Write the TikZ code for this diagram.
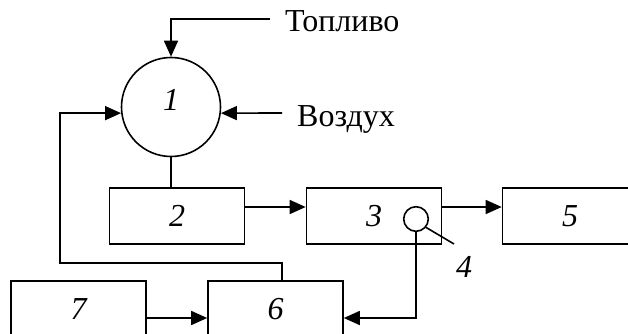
\documentclass[tikz,border=0pt]{standalone}
\usepackage{fontspec}
\setmainfont{Liberation Serif}
\usetikzlibrary{arrows.meta}
\begin{document}
\begin{tikzpicture}[x=1pt,y=-1pt,
  every node/.style={font=\fontsize{32}{38}\selectfont},
  conn/.style={line width=1.6pt},
  arr/.style={conn,-{Triangle[length=16pt,width=14pt]}},
  blk/.style={draw,line width=1.6pt,minimum width=135pt,minimum height=56pt,inner sep=0pt,font=\fontsize{32}{38}\selectfont\itshape},
  ring/.style={draw,circle,line width=1.6pt,inner sep=0pt}]
\useasboundingbox (0,0) rectangle (628,334);
\clip (0,0) rectangle (628,334);
\node[ring,minimum size=99pt] (c1) at (171,107) {};
\node[font=\fontsize{32}{38}\selectfont\itshape] (l1) at (171,100) {1};
\node[blk] (b2) at (177,216) {2};
\node[blk] (b3) at (374,216) {3};
\node[blk] (b5) at (570,216) {5};
\node[blk] (b6) at (275.5,309) {6};
\node[blk] (b7) at (78.5,309) {7};
\node[ring,minimum size=24.6pt,fill=white] (c4) at (416,219) {};
\node[font=\fontsize{32}{38}\selectfont\itshape] (l4) at (464,267) {4};
\node[anchor=base west,inner sep=0pt] (tf) at (285,32) {Топливо};
\node[anchor=base west,inner sep=0pt] (ta) at (297,126) {Воздух};
\coordinate (fuel) at (270,19);
\coordinate (air) at (282,113);
\coordinate (lead) at (454,244);
\coordinate (fb) at (60,263);
\draw[arr] (fuel) -| (c1.north);
\draw[arr] (air) -- (c1.-7);
\draw[conn] (c1.south) -- (c1.south |- b2.north);
\draw[arr] ([yshift=9pt]b2.east) -- ([yshift=9pt]b3.west);
\draw[arr] ([yshift=9pt]b3.east) -- ([yshift=9pt]b5.west);
\draw[conn] (c4.-40) -- (lead);
\draw[arr] (c4.south) |- ([yshift=-9pt]b6.east);
\draw[arr] ([yshift=-9pt]b7.east) -- ([yshift=-9pt]b6.west);
\draw[arr] ([xshift=6.5pt]b6.north) |- (fb) |- (c1.187);
\end{tikzpicture}
\end{document}
